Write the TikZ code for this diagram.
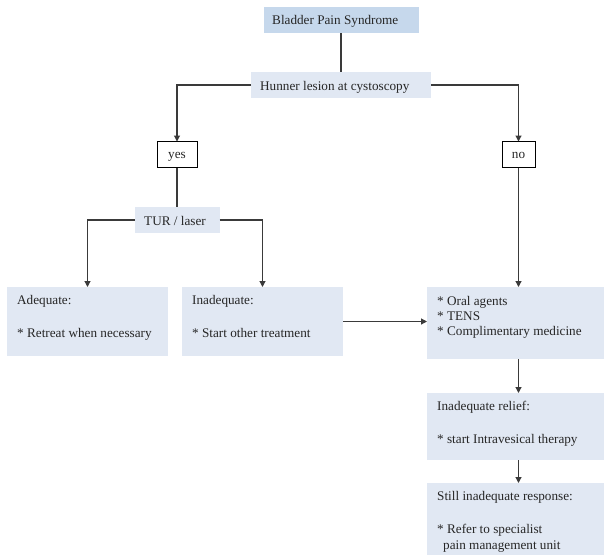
\documentclass[tikz,border=0pt]{standalone}
\usepackage{fontspec}
\setmainfont{Liberation Serif}
\usetikzlibrary{arrows.meta}
\definecolor{boxdark}{HTML}{C6D8EC}
\definecolor{boxlight}{HTML}{E1E8F3}
\definecolor{linec}{HTML}{3A3A3A}
\tikzset{
  bx/.style={draw=none,fill=boxlight,minimum width=#1,inner sep=0pt,outer sep=0pt},
  lbl/.style={anchor=base west,inner sep=0pt,font=\fontsize{13.2}{15}\selectfont,text=black!85},
  conn/.style={draw=linec,line width=1.1pt},
  arr/.style={conn,-{Triangle[length=6pt,width=6pt]}},
  yn/.style={draw=black,fill=white,line width=0.9pt,inner sep=0pt,outer sep=0pt},
}
\begin{document}
\begin{tikzpicture}[x=1pt,y=-1pt]
\useasboundingbox (0,0) rectangle (606,558);
% boxes
\node[bx=155pt,fill=boxdark,minimum height=26pt] (bps) at (341,20) {};
\node[bx=180pt,minimum height=26pt] (hun) at (341,85) {};
\node[yn,minimum width=40pt,minimum height=26pt] (yes) at (177,154.5) {};
\node[yn,minimum width=33pt,minimum height=26pt] (no) at (518.5,154.5) {};
\node[bx=85pt,minimum height=26pt] (tur) at (177,220) {};
\node[bx=161pt,minimum height=69pt] (ade) at (87.5,321.5) {};
\node[bx=161pt,minimum height=69pt] (inad) at (262.5,321.5) {};
\node[bx=177pt,minimum height=72pt] (oral) at (515.5,323) {};
\node[bx=177pt,minimum height=67pt] (rel) at (515.5,426.5) {};
\node[bx=177pt,minimum height=72pt] (still) at (515.5,519) {};
% texts
\node[lbl] (tbps) at (272,24) {Bladder Pain Syndrome};
\node[lbl] (thun) at (260,90) {Hunner lesion at cystoscopy};
\node[lbl,anchor=base] (tyes) at (177,158.5) {yes};
\node[lbl,anchor=base] (tno) at (518.5,158.5) {no};
\node[lbl] (ttur) at (144,225) {TUR / laser};
\node[lbl] (tade1) at (17,304) {Adequate:};
\node[lbl] (tade2) at (17,337) {* Retreat when necessary};
\node[lbl] (tinad1) at (192,304) {Inadequate:};
\node[lbl] (tinad2) at (192,337) {* Start other treatment};
\node[lbl] (toral1) at (437,305) {* Oral agents};
\node[lbl] (toral2) at (437,320) {* TENS};
\node[lbl] (toral3) at (437,335) {* Complimentary medicine};
\node[lbl] (trel1) at (437,410) {Inadequate relief:};
\node[lbl] (trel2) at (437,443) {* start Intravesical therapy};
\node[lbl] (tst1) at (437,500) {Still inadequate response:};
\node[lbl] (tst2) at (437,533) {* Refer to specialist};
\node[lbl] (tst3) at (443,549) {pain management unit};
% connectors
\draw[conn] (bps.south) -- (hun.north);
\draw[arr] (hun.west) -| (yes.north);
\draw[arr] (hun.east) -| (no.north);
\draw[conn] (yes.south) -- (tur.north);
\draw[arr] (tur.west) -| (ade.north);
\draw[arr] (tur.east) -| (inad.north);
\draw[arr] (no.south) -- (oral.north -| no.south);
\draw[arr] (inad.east) -- (oral.west |- inad.east);
\draw[arr] (oral.south -| no.south) -- (rel.north -| no.south);
\draw[arr] (rel.south -| no.south) -- (still.north -| no.south);
\end{tikzpicture}
\end{document}
